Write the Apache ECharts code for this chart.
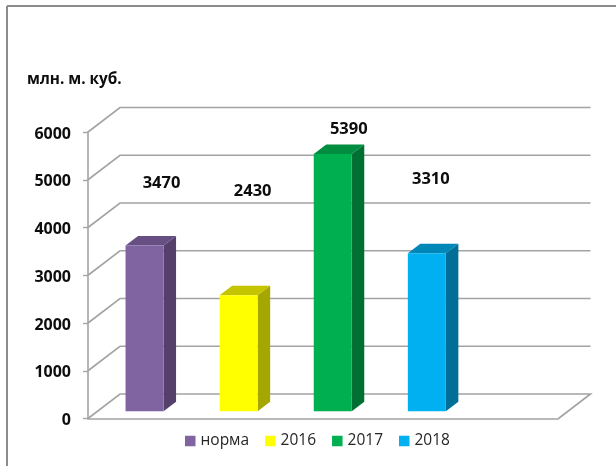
<!DOCTYPE html>
<html>
<head>
<meta charset="utf-8">
<title>млн. м. куб.</title>
<style>
    html, body { margin: 0; padding: 0; background: #fff; }
    #chart { width: 616px; height: 466px; }
</style>
<script src="https://cdn.jsdelivr.net/npm/echarts@6/dist/echarts.min.js"></script>
</head>
<body>
<div id="chart"></div>
<script>
const categories = ["норма", "2016", "2017", "2018", ""];
const seriesNames = ["норма", "2016", "2017", "2018"];
const seriesValues = [3470, 2430, 5390, 3310];
const axisTicks = [0, 1000, 2000, 3000, 4000, 5000, 6000];

const FONT = '"Open Sans", sans-serif';
const GRID_COLOR = "#a3a3a3";
const FRAME_COLOR = "#8c8c8c";

// глубина задней стенки и положение столбиков внутри неё
const WALL_DX = 32, WALL_DY = -24.5;
const BAR_DX = 9.5, BAR_DY = -7.2;
const SIDE_DX = 12.5, SIDE_DY = -9.5;
const BAR_RATIO = 0.404;

const renderWall = (params, api) => {
    const v = api.value(0);
    const box = params.coordSys;
    const y = api.coord([0, v])[1];
    const left = box.x;
    const right = box.x + box.width;
    const lineStyle = { stroke: GRID_COLOR, lineWidth: 1.6, fill: null };
    const points = [
        [left, y],
        [left + WALL_DX, y + WALL_DY],
        [right + WALL_DX, y + WALL_DY]
    ];
    // на нулевом уровне пол замыкается справа
    if (v === 0) points.push([right, y]);
    return {
        type: "polyline",
        shape: { points: points },
        style: lineStyle,
        silent: true
    };
};

const makeBarSeries = (index, color, topColor, sideColor, labelDx, labelDy) => ({
    name: seriesNames[index],
    type: "custom",
    z: 3,
    itemStyle: { color: color },
    data: [[index, seriesValues[index]]],
    encode: { x: 0, y: 1 },
    renderItem: (params, api) => {
        const base = api.coord([api.value(0), 0]);
        const top = api.coord([api.value(0), api.value(1)]);
        const width = api.size([1, 0])[0] * BAR_RATIO;
        const x0 = base[0] + BAR_DX - width / 2;
        const x1 = x0 + width;
        const y0 = base[1] + BAR_DY;
        const y1 = top[1] + BAR_DY;
        return {
            type: "group",
            children: [
                {
                    type: "polygon",
                    shape: { points: [[x1, y0], [x1 + SIDE_DX, y0 + SIDE_DY], [x1 + SIDE_DX, y1 + SIDE_DY], [x1, y1]] },
                    style: { fill: sideColor }
                },
                {
                    type: "polygon",
                    shape: { points: [[x0, y1], [x0 + SIDE_DX, y1 + SIDE_DY], [x1 + SIDE_DX, y1 + SIDE_DY], [x1, y1]] },
                    style: { fill: topColor }
                },
                {
                    type: "rect",
                    shape: { x: x0, y: y1, width: width, height: y0 - y1 },
                    style: { fill: color }
                },
                {
                    type: "text",
                    style: {
                        text: String(api.value(1)),
                        x: x0 + width / 2 + labelDx,
                        y: y1 + labelDy,
                        align: "center",
                        verticalAlign: "middle",
                        fill: "#0d0d0d",
                        font: "bold 16.5px " + FONT
                    }
                }
            ]
        };
    }
});

const getOption = () => ({
    animation: false,
    backgroundColor: "#fff",
    title: {
        text: "млн. м. куб.",
        left: 27,
        top: 72,
        padding: 0,
        textStyle: { fontFamily: FONT, fontSize: 15.3, fontWeight: "bold", color: "#0d0d0d" }
    },
    legend: {
        data: seriesNames,
        left: 185,
        top: 433,
        icon: "rect",
        itemWidth: 10.5,
        itemHeight: 10.5,
        itemGap: 16,
        padding: 0,
        selectedMode: false,
        textStyle: { fontFamily: FONT, fontSize: 15.5, color: "#262626" }
    },
    grid: { left: 88, right: 57.5, top: 132, bottom: 47.5 },
    xAxis: {
        type: "category",
        data: categories,
        axisLine: { show: true, lineStyle: { color: GRID_COLOR, width: 1.6 } },
        axisTick: { show: false },
        axisLabel: { show: false },
        splitLine: { show: false }
    },
    yAxis: {
        type: "value",
        min: 0,
        max: 6000,
        interval: 1000,
        axisLine: { show: true, lineStyle: { color: GRID_COLOR, width: 1.6 } },
        axisTick: { show: true, length: 5, lineStyle: { color: GRID_COLOR, width: 1.4 } },
        axisLabel: {
            margin: 17,
            verticalAlign: "top",
            lineHeight: 4,
            fontFamily: FONT,
            fontSize: 16,
            fontWeight: "bold",
            color: "#0d0d0d",
            formatter: (value) => String(value)
        },
        splitLine: { show: false }
    },
    graphic: [
        { type: "line", silent: true, shape: { x1: 7, y1: 6, x2: 616, y2: 6 }, style: { stroke: FRAME_COLOR, lineWidth: 2 } },
        { type: "line", silent: true, shape: { x1: 7, y1: 6, x2: 7, y2: 466 }, style: { stroke: FRAME_COLOR, lineWidth: 2 } }
    ],
    series: [
        {
            name: "walls",
            type: "custom",
            z: 1,
            silent: true,
            data: axisTicks.map(v => [v]),
            encode: { y: 0 },
            renderItem: renderWall
        },
        makeBarSeries(0, "#8064A2", "#674F84", "#54406B", 17, -62.5),
        makeBarSeries(1, "#FFFF00", "#C4C400", "#A6A600", 14, -104),
        makeBarSeries(2, "#00B050", "#008D40", "#006F32", 16, -25),
        makeBarSeries(3, "#00B0F0", "#0087B8", "#006E96", 4, -74)
    ]
});

document.addEventListener("DOMContentLoaded", function() {
    const chart = echarts.init(document.getElementById("chart"));
    chart.setOption(getOption());
});
</script>
</body>
</html>
